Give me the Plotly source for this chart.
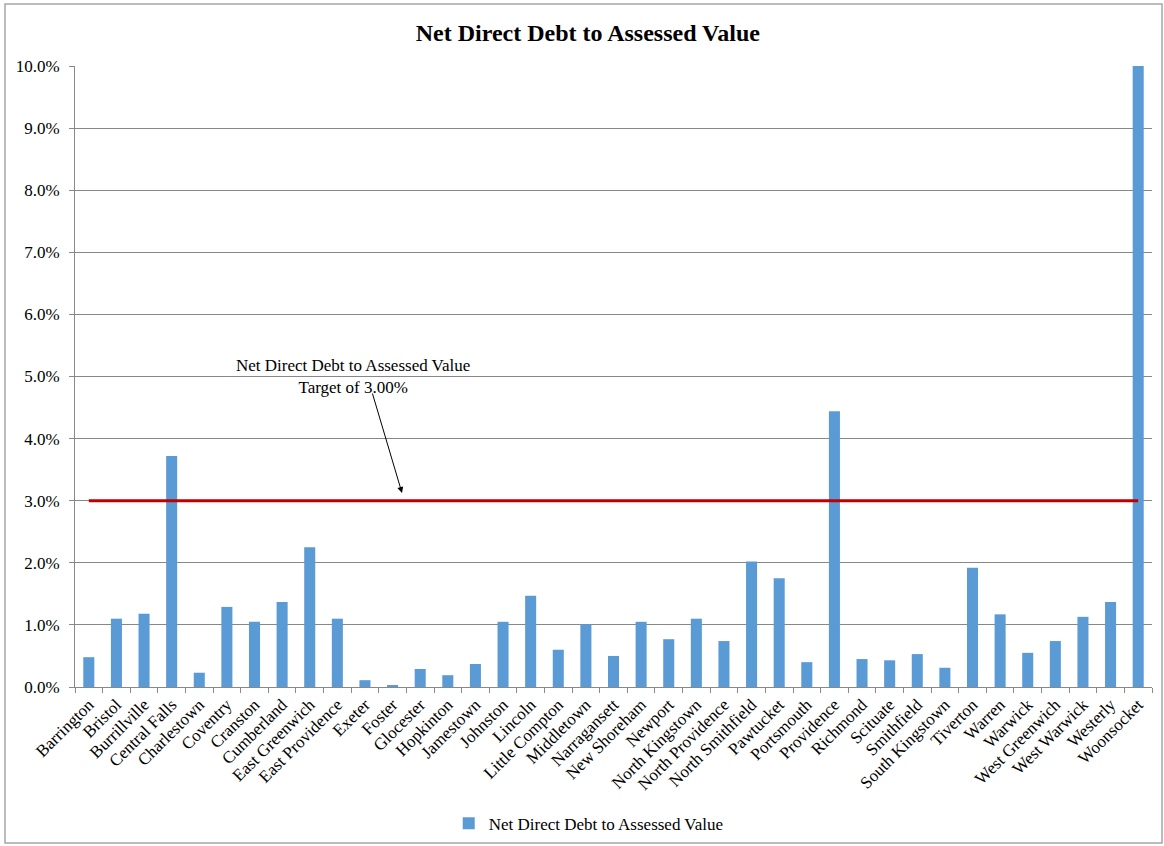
import plotly.graph_objects as go

towns = ["Barrington", "Bristol", "Burrillville", "Central Falls", "Charlestown", "Coventry",
         "Cranston", "Cumberland", "East Greenwich", "East Providence", "Exeter", "Foster",
         "Glocester", "Hopkinton", "Jamestown", "Johnston", "Lincoln", "Little Compton",
         "Middletown", "Narragansett", "New Shoreham", "Newport", "North Kingstown",
         "North Providence", "North Smithfield", "Pawtucket", "Portsmouth", "Providence",
         "Richmond", "Scituate", "Smithfield", "South Kingstown", "Tiverton", "Warren",
         "Warwick", "West Greenwich", "West Warwick", "Westerly", "Woonsocket"]
debt_pct = [0.48, 1.10, 1.18, 3.72, 0.23, 1.29, 1.05, 1.37, 2.25, 1.10, 0.11, 0.02,
            0.29, 0.19, 0.37, 1.05, 1.47, 0.60, 1.01, 0.50, 1.05, 0.77, 1.10,
            0.74, 2.02, 1.75, 0.40, 4.44, 0.45, 0.43, 0.53, 0.31, 1.92, 1.17,
            0.55, 0.74, 1.13, 1.37, 10.0]
target_pct = [3.0] * len(towns)
y_ticks = [0, 1, 2, 3, 4, 5, 6, 7, 8, 9, 10]
y_labels = ["0.0%", "1.0%", "2.0%", "3.0%", "4.0%", "5.0%", "6.0%", "7.0%", "8.0%", "9.0%", "10.0%"]

FONT = "Liberation Serif, Times New Roman, serif"

fig = go.Figure()
fig.add_trace(go.Bar(x=towns, y=debt_pct, name="Net Direct Debt to Assessed Value",
                     marker=dict(color="#5B9BD5", line=dict(width=0)), showlegend=True))
fig.add_trace(go.Scatter(x=towns, y=target_pct, mode="lines", showlegend=False,
                         line=dict(color="#C00000", width=3), hoverinfo="skip"))

fig.update_layout(
    width=1164, height=846,
    margin=dict(l=75, r=12, t=66, b=159, autoexpand=False),
    paper_bgcolor="white", plot_bgcolor="white",
    font=dict(family=FONT, size=17, color="black"),
    title=dict(text="<b>Net Direct Debt to Assessed Value</b>", x=0.505, xref="container",
               xanchor="center", y=0.962, yanchor="middle", font=dict(size=24, family=FONT)),
    bargap=0.6,
    showlegend=True,
    legend=dict(orientation="h", x=0.477, xanchor="center", y=-0.22,
                yanchor="middle", font=dict(size=17), itemwidth=30),
)
fig.update_xaxes(type="category", tickangle=-45, showgrid=False, showline=True,
                 linecolor="#888888", linewidth=1, ticks="outside", tickson="boundaries",
                 ticklen=5, tickcolor="#888888", tickfont=dict(size=17), automargin=False)
fig.update_yaxes(range=[0, 10], tickvals=y_ticks, ticktext=y_labels,
                 showgrid=True, gridcolor="#878787", gridwidth=1, showline=True,
                 linecolor="#888888", ticks="outside", ticklen=5, tickcolor="#888888",
                 ticklabelstandoff=6,
                 zeroline=False, tickfont=dict(size=17), automargin=False)

fig.add_annotation(xref="paper", yref="paper", x=(353 - 75) / 1077, y=(687 - 376) / 621,
                   text="Net Direct Debt to Assessed Value<br>Target of 3.00%",
                   showarrow=False, font=dict(size=17, family=FONT), xanchor="center",
                   yanchor="middle")
fig.add_annotation(xref="paper", yref="paper", x=(402 - 75) / 1077, y=(687 - 493) / 621,
                   axref="pixel", ayref="pixel", ax=-30, ay=-101, text="",
                   showarrow=True, arrowhead=2, arrowsize=1.2, arrowwidth=1, arrowcolor="black")

fig.add_shape(type="rect", xref="paper", yref="paper",
              x0=(5 - 75) / 1077, x1=(1162 - 75) / 1077,
              y0=(687 - 843) / 621, y1=(687 - 4) / 621,
              line=dict(color="#a6a6a6", width=1.5), fillcolor="rgba(0,0,0,0)", layer="below")

fig.write_html("out.html")
